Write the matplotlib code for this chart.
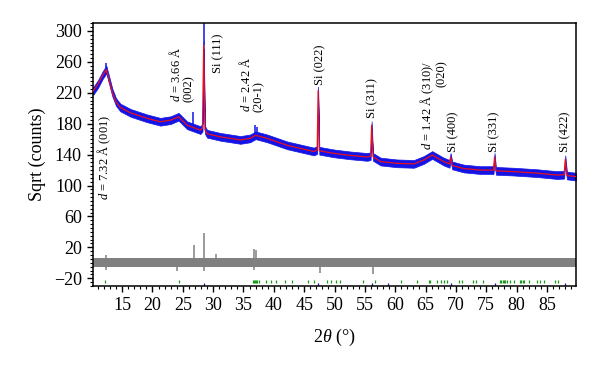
import matplotlib
matplotlib.use("Agg")
import matplotlib.pyplot as plt
from matplotlib.ticker import MultipleLocator
import numpy as np

plt.rcParams['font.family'] = ['Liberation Serif', 'DejaVu Serif']
plt.rcParams['mathtext.fontset'] = 'custom'
plt.rcParams['mathtext.it'] = 'Liberation Serif:italic'
plt.rcParams['mathtext.rm'] = 'Liberation Serif'

# ---- calculated profile (red) ----
two_theta = [10.2, 11.0, 11.8, 12.4, 13.0, 13.4, 14.0, 14.7, 16.4, 19.1, 21.3, 23.0,
             24.3, 25.7, 27.1, 27.9, 28.25, 28.44, 28.65, 29.0, 31.2, 34.5, 36.1,
             37.0, 38.9, 42.2, 44.4, 46.6, 47.15, 47.3, 47.5, 49.9, 52.6, 55.4,
             55.95, 56.12, 56.35, 57.6, 60.3, 63.1, 64.7, 66.1, 68.0, 68.95,
             69.13, 69.4, 71.3, 74.0, 76.2, 76.38, 76.6, 79.5, 83.4, 86.7, 87.85,
             88.03, 88.3, 89.8]
calc = [222, 231, 243, 250, 232, 220, 208, 201, 194, 187, 182.5, 184.6,
        189, 178, 174, 171.7, 175, 282, 172, 167, 163, 159, 161,
        165, 161, 152, 148, 144, 146, 223, 145, 141.6, 139, 137,
        138, 178, 137, 131, 128.7, 128, 133, 139.5, 131, 128,
        137, 126, 122, 120, 120, 137, 119, 118, 116, 113.5, 114,
        134, 113, 111.5]
obs_spread = 5.0  # half-width of the noisy observed band

# extra observed spikes (blue) not in the calculated profile
obs_spike_pos = [12.4, 26.7, 28.44, 36.9, 37.2]
obs_spike_top = [258, 195, 310, 178, 176]

# ---- difference curve (grey) ----
diff_center = 0.5
diff_spread = 5.5
diff_spike_pos = [12.3, 24.1, 26.8, 28.5, 30.4, 36.8, 37.1, 47.6, 56.3]
diff_spike_lo = [-9, -11, -4, -10, -4, -9, -6, -13, -15]
diff_spike_hi = [10, 5, 23, 38, 12, 18, 16, 5, 5]

# ---- reflection markers ----
phase_refl = [12.1, 24.4, 36.5, 36.7, 36.9, 37.1, 37.3, 37.5, 38.7, 39.6, 40.4,
              41.8, 43.0, 45.6, 46.7, 48.8, 49.4, 50.2, 50.9, 54.7, 56.6, 61.0,
              63.6, 65.5, 65.7, 66.9, 67.5, 68.1, 68.6, 70.5, 71.0, 72.8, 73.3,
              74.5, 77.3, 77.5, 77.7, 77.9, 78.1, 78.4, 79.0, 79.5, 80.6, 80.8,
              81.0, 81.2, 82.1, 83.4, 83.9, 84.5, 86.4, 86.9]
si_refl = [28.44, 47.30, 56.12, 58.85, 69.13, 76.38, 88.03]

# ---- annotations: (x, y_bottom, text, multialign) ----
labels = [
    (12.0, 81, r'$d$ = 7.32 Å (001)', 'left'),
    (24.8, 208, '$d$ = 3.66 Å\n(002)', 'left'),
    (30.9, 245, 'Si (111)', 'left'),
    (36.3, 195, '$d$ = 2.42 Å\n(20-1)', 'left'),
    (47.7, 230, 'Si (022)', 'left'),
    (56.3, 188, 'Si (311)', 'left'),
    (66.3, 146, '$d$ = 1.42 Å (310)/\n(020)', 'right'),
    (69.6, 143, 'Si (400)', 'left'),
    (76.4, 143, 'Si (331)', 'left'),
    (88.0, 143, 'Si (422)', 'left'),
]

fig = plt.figure(figsize=(6.0, 3.69), dpi=100)
ax = fig.add_axes([0.155, 0.225, 0.805, 0.712])

x = np.array(two_theta)
c = np.array(calc)
ax.fill_between(x, c - obs_spread, c + obs_spread, color='#1414e6', lw=0.5,
                edgecolor='#1414e6', zorder=2)
ax.vlines(obs_spike_pos, np.interp(obs_spike_pos, x, c), obs_spike_top,
          color='#1414e6', lw=1.1, zorder=2)
ax.plot(x, c, color='#e8101c', lw=0.9, zorder=3)

xd = np.array([10.2, 89.8])
ax.fill_between(xd, diff_center - diff_spread, diff_center + diff_spread,
                color='#808080', lw=0, zorder=2)
ax.vlines(diff_spike_pos, diff_spike_lo, diff_spike_hi, color='#808080',
          lw=1.1, zorder=2)

ax.vlines(phase_refl, -26, -22.5, color='#1a9a1a', lw=0.9, zorder=2)
ax.vlines(si_refl, -30, -26, color='#1010c0', lw=0.9, zorder=2)

for lx, ly, txt, ma in labels:
    ax.text(lx, ly, txt, rotation=90, ha='center', va='bottom',
            multialignment=ma, fontsize=9, zorder=4, linespacing=1.0)

ax.set_xlim(10.2, 89.8)
ax.set_ylim(-30, 310)
ax.set_xticks([15, 20, 25, 30, 35, 40, 45, 50, 55, 60, 65, 70, 75, 80, 85])
ax.xaxis.set_minor_locator(MultipleLocator(1))
ax.set_yticks([-20, 20, 60, 100, 140, 180, 220, 260, 300])
ax.yaxis.set_minor_locator(MultipleLocator(5))
ax.tick_params(which='major', length=4.5, width=1.0, labelsize=13, direction='out')
ax.tick_params(which='minor', length=2.5, width=0.8, direction='out')
for s in ax.spines.values():
    s.set_linewidth(1.1)

ax.set_xlabel(r'2$\theta$ (°)', fontsize=13, labelpad=9)
ax.set_ylabel('Sqrt (counts)', fontsize=13, labelpad=6)

fig.savefig('out.png', dpi=100)
